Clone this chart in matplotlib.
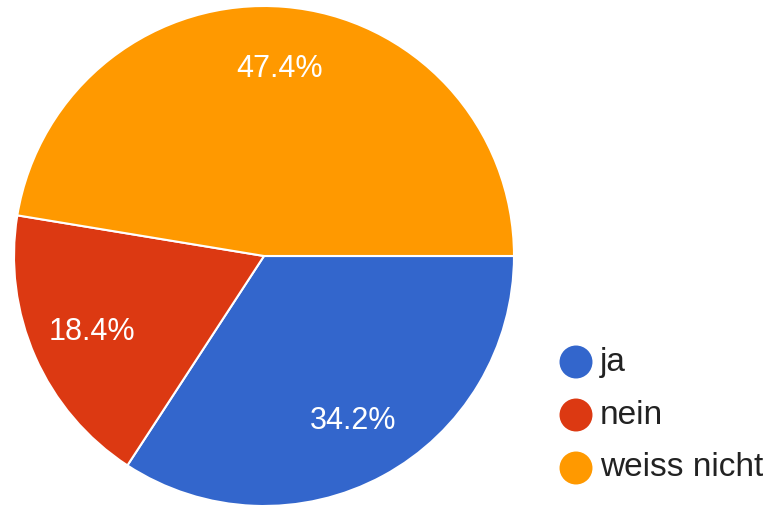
import matplotlib.pyplot as plt

plt.rcParams['font.family'] = ['Liberation Sans', 'DejaVu Sans']

labels = ['ja', 'nein', 'weiss nicht']
shares = [34.2, 18.4, 47.4]
colors = ['#3366cc', '#dc3912', '#ff9900']

W, H = 771, 505
fig = plt.figure(figsize=(W / 100, H / 100), dpi=100)
ax = fig.add_axes([0, 0, 1, 1])
ax.set_xlim(0, W)
ax.set_ylim(0, H)
ax.set_aspect('equal')
ax.axis('off')

# pie in pixel units, starting at 3 o'clock and running clockwise
wedges, _, autotexts = ax.pie(shares, colors=colors, startangle=0, counterclock=False,
                              center=(264, H - 256), radius=250,
                              autopct='%1.1f%%', pctdistance=0.75,
                              wedgeprops=dict(edgecolor='white', linewidth=1.5),
                              textprops=dict(color='white', fontsize=22))
ax.set_xlim(0, W)
ax.set_ylim(0, H)
ax.axis('off')

# legend
for i, (lab, col) in enumerate(zip(labels, colors)):
    y = H - (362 + i * 53)
    ax.scatter([576], [y], s=32 ** 2 * 0.55, color=col, edgecolor='none')
    ax.text(600, y, lab, fontsize=24, color='#222222', va='center', ha='left')

fig.savefig('out.png', dpi=100)
